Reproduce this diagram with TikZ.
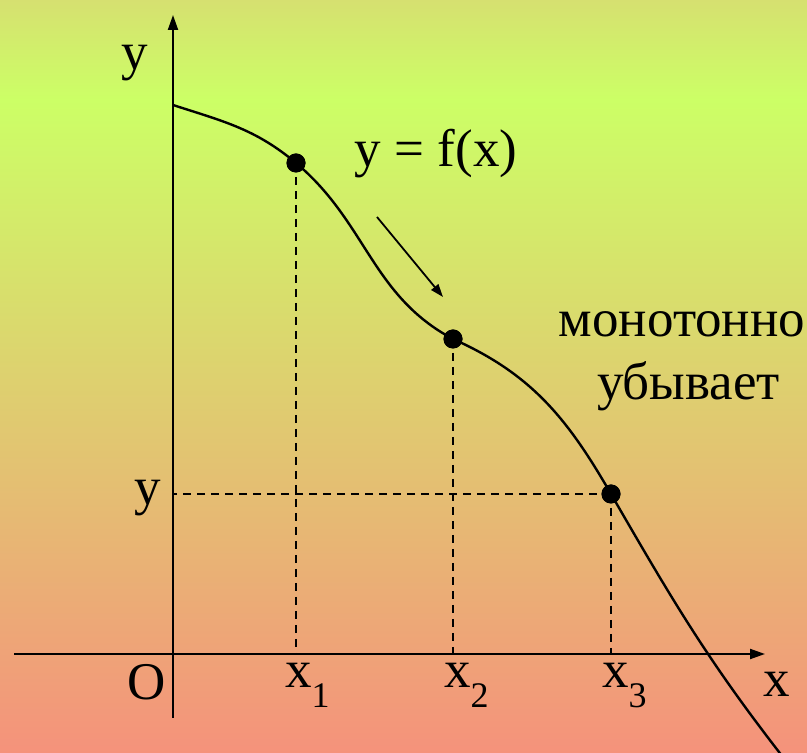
\documentclass[tikz,border=0pt]{standalone}
\usepackage{fontspec}
\setmainfont{Liberation Serif}
\usetikzlibrary{arrows.meta}
\definecolor{bgtop}{HTML}{D6E070}
\definecolor{bglight}{HTML}{CCFF66}
\definecolor{bgbot}{HTML}{F5927B}
\newcommand{\idx}[1]{\raisebox{-20pt}{\fontsize{36}{40}\selectfont #1}}

\begin{document}
\begin{tikzpicture}[x=1pt,y=1pt,
  lbl/.style={font=\fontsize{53}{60}\selectfont, inner sep=0pt},
  axis/.style={line width=2pt, -{Triangle[length=15pt,width=10pt]}},
  dashline/.style={line width=2.2pt, dash pattern=on 8pt off 6pt},
  dot/.style={circle, fill=black, inner sep=0pt, minimum size=19pt}]
% background
\shade[top color=bgtop,bottom color=bglight] (0,653) rectangle (807,753);
\shade[top color=bglight,bottom color=bgbot] (0,0) rectangle (807,653);
\useasboundingbox (0,0) rectangle (807,753);
% axes
\coordinate (O) at (173,99);
\coordinate (xl) at (14,99);
\coordinate (xr) at (765,99);
\coordinate (yb) at (173,35);
\coordinate (yt) at (173,738);
\draw[axis] (xl) -- (xr);
\draw[axis] (yb) -- (yt);
% points on the graph
\coordinate (s) at (173,648);
\coordinate (e) at (786,-8);
\node[dot] (p1) at (296,590) {};
\node[dot] (p2) at (453,414) {};
\node[dot] (p3) at (611,259) {};
% dashed projections
\draw[dashline] (p1.center) -- (p1.center |- O);
\draw[dashline] (p2.center) -- (p2.center |- O);
\draw[dashline] (p3.center) -- (p3.center |- O);
\draw[dashline] (p3.center) -- (p3.center -| O);
% the curve
\draw[line width=2.4pt] (s) to[out=-18,in=140] (p1.center)
  to[out=-40,in=152] (p2.center)
  to[out=-24,in=120] (p3.center)
  to[out=-60,in=128] (e);
\node[dot] at (p1) {};
\node[dot] at (p2) {};
\node[dot] at (p3) {};
% direction arrow
\coordinate (a1) at (377,536);
\coordinate (a2) at (443,456);
\draw[line width=1.8pt,-{Triangle[length=13pt,width=9pt]}] (a1) -- (a2);
% labels
\node[lbl,anchor=base] (ytop) at (134.5,683) {y};
\node[lbl,anchor=base] (yval) at (147.5,248) {y};
\node[lbl,anchor=base] (orig) at (146.5,53) {O};
\node[lbl,anchor=base] (xlab) at (777,56) {x};
\node[lbl,anchor=base west] (x1) at (285,65) {x\idx{1}};
\node[lbl,anchor=base west] (x2) at (444,65) {x\idx{2}};
\node[lbl,anchor=base west] (x3) at (602,65) {x\idx{3}};
\node[lbl,anchor=base] (func) at (436,586) {y = f(x)};
\node[lbl,anchor=base] (mono) at (682,416) {монотонно};
\node[lbl,anchor=base] (decr) at (688.5,353) {убывает};
\end{tikzpicture}
\end{document}
